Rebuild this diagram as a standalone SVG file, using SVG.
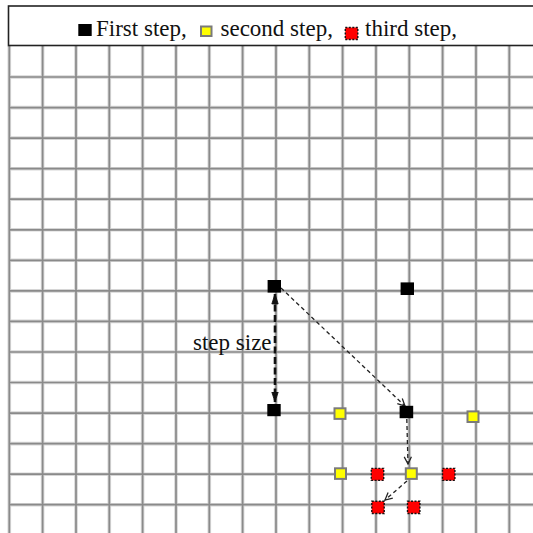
<svg xmlns="http://www.w3.org/2000/svg" width="533" height="533" viewBox="0 0 533 533">
  <defs>
    <style>
      .grid-halo { stroke: #d6d6d6; stroke-width: 3.6; fill: none; }
      .grid { stroke: #8a8a8a; stroke-width: 1.7; fill: none; }
      .lbl { font-family: "Liberation Serif", "Times New Roman", serif; font-size: 23px; fill: #111; }
      .first { fill: #000; }
      .second { fill: #ffff00; stroke: #7a7a7a; stroke-width: 2; }
      .third { fill: #ff0000; stroke: #111; stroke-width: 1.4; stroke-dasharray: 2 1.5; }
      .move { stroke: #222; stroke-width: 1.3; stroke-dasharray: 4 3; fill: none; }
      .step { stroke: #111; stroke-width: 2.6; stroke-dasharray: 7 3.5; fill: none; }
    </style>
    <marker id="open" viewBox="0 0 10 10" refX="9" refY="5" markerWidth="9" markerHeight="9" markerUnits="userSpaceOnUse" orient="auto">
      <path d="M1,1 L9,5 L1,9" fill="none" stroke="#222" stroke-width="1.4"/>
    </marker>
    <marker id="solid" viewBox="0 0 12 10" refX="11" refY="5" markerWidth="12" markerHeight="9" markerUnits="userSpaceOnUse" orient="auto-start-reverse">
      <path d="M0,1.5 L11,5 L0,8.5 Z" fill="#111" stroke="#111" stroke-width="1"/>
    </marker>
  </defs>

  <rect x="0" y="0" width="533" height="533" fill="#fff"/>

  <!-- square grid: 33.33 px columns, 30.55 px rows -->
  <g id="grid">
    <path class="grid-halo" d="M9.3,46V533 M42.6,46V533 M76,46V533 M109.3,46V533 M142.6,46V533 M176,46V533 M209.3,46V533 M242.6,46V533 M276,46V533 M309.3,46V533 M342.6,46V533 M376,46V533 M409.3,46V533 M442.6,46V533 M476,46V533 M509.3,46V533
      M9,77H533 M9,107.6H533 M9,138.1H533 M9,168.7H533 M9,199.2H533 M9,229.8H533 M9,260.3H533 M9,290.9H533 M9,321.4H533 M9,352H533 M9,382.5H533 M9,413.1H533 M9,443.6H533 M9,474.2H533 M9,504.7H533"/>
    <path class="grid" d="M9.3,46V533 M42.6,46V533 M76,46V533 M109.3,46V533 M142.6,46V533 M176,46V533 M209.3,46V533 M242.6,46V533 M276,46V533 M309.3,46V533 M342.6,46V533 M376,46V533 M409.3,46V533 M442.6,46V533 M476,46V533 M509.3,46V533
      M9,77H533 M9,107.6H533 M9,138.1H533 M9,168.7H533 M9,199.2H533 M9,229.8H533 M9,260.3H533 M9,290.9H533 M9,321.4H533 M9,352H533 M9,382.5H533 M9,413.1H533 M9,443.6H533 M9,474.2H533 M9,504.7H533"/>
  </g>

  <!-- legend bar -->
  <g id="legend">
    <rect x="8.5" y="6" width="530" height="39.5" fill="#fff" stroke="#222" stroke-width="1.6"/>
    <rect class="first" x="78.3" y="24" width="13.4" height="12"/>
    <text class="lbl" x="96" y="36">First step,</text>
    <rect class="second" x="201" y="26.5" width="10.5" height="9.5"/>
    <text class="lbl" x="220.5" y="36">second step,</text>
    <rect class="third" x="345.3" y="27.5" width="12.5" height="12"/>
    <text class="lbl" x="365" y="36">third step,</text>
  </g>

  <!-- moves between search points -->
  <g id="connectors">
    <path class="step" d="M275,294 V402" marker-start="url(#solid)" marker-end="url(#solid)"/>
    <path class="move" d="M281,288 L405,406" marker-end="url(#open)"/>
    <path class="move" d="M406.8,419 L408,464" marker-end="url(#open)"/>
    <path class="move" d="M407,481 L385,500" marker-end="url(#open)"/>
  </g>

  <text id="step-size" class="lbl" x="193" y="349.5">step size</text>

  <!-- first step points -->
  <g id="p1-a"><rect class="first" x="267.6" y="280" width="13.4" height="12.6"/></g>
  <g id="p1-b"><rect class="first" x="400.6" y="282.4" width="13.4" height="12.6"/></g>
  <g id="p1-c"><rect class="first" x="267.3" y="404" width="13.4" height="12.2"/></g>
  <g id="p1-d"><rect class="first" x="399.6" y="405.8" width="13.6" height="12.4"/></g>

  <!-- second step points -->
  <g id="p2-a"><rect class="second" x="334.5" y="408.3" width="11" height="10.6"/></g>
  <g id="p2-b"><rect class="second" x="467.5" y="411.4" width="11" height="10.6"/></g>
  <g id="p2-c"><rect class="second" x="335" y="468.3" width="11" height="10.6"/></g>
  <g id="p2-d"><rect class="second" x="405.8" y="468.3" width="11" height="10.6"/></g>

  <!-- third step points -->
  <g id="p3-a"><rect class="third" x="371.3" y="468.4" width="12.4" height="12"/></g>
  <g id="p3-b"><rect class="third" x="442.5" y="468.4" width="12.4" height="12"/></g>
  <g id="p3-c"><rect class="third" x="371.8" y="501.3" width="12.4" height="12.2"/></g>
  <g id="p3-d"><rect class="third" x="407.5" y="501.3" width="12.4" height="12.2"/></g>
</svg>
